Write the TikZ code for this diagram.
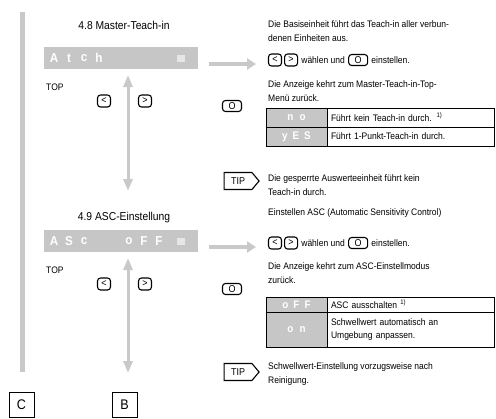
\documentclass[tikz,border=0pt]{standalone}
\usepackage{fontspec}
\setmainfont{Liberation Sans}[FakeStretch=0.9]
\usetikzlibrary{positioning,arrows.meta,shapes.symbols}
\definecolor{lcdgray}{HTML}{C6C6C6}
\definecolor{bargray}{HTML}{C9C9C9}
\definecolor{ledgray}{HTML}{E6E6E6}
\tikzset{
  body/.style    = {anchor=west, align=left, inner sep=0pt,
                    font=\fontsize{9.5}{14}\selectfont},
  head/.style    = {inner sep=0pt, font=\fontsize{11.5}{12}\selectfont},
  lcd/.style     = {fill=lcdgray, anchor=north west, minimum width=154bp,
                    minimum height=22bp, inner sep=0pt},
  lcdch/.style   = {text=white, inner sep=0pt, font=\bfseries\fontsize{13}{13}\selectfont},
  led/.style     = {fill=ledgray, minimum width=8bp, minimum height=7bp, inner sep=0pt},
  keybtn/.style  = {draw, line width=1.1bp, rounded corners=3bp, minimum width=13bp,
                    minimum height=12bp, inner sep=0pt, font=\fontsize{10}{10}\selectfont},
  okbtn/.style   = {keybtn, minimum width=19bp, minimum height=11bp},
  tipbox/.style  = {signal, signal to=east, signal pointer angle=100, draw, line width=1.1bp,
                    minimum width=35bp, minimum height=17bp, inner sep=1.5pt,
                    font=\fontsize{10}{10}\selectfont},
  lcdcell/.style = {draw, line width=0.8bp, fill=lcdgray, text=white, outer sep=0pt,
                    text width=53bp, align=center, inner sep=4bp,
                    font=\bfseries\fontsize{11}{12}\selectfont},
  txtcell/.style = {draw, line width=0.8bp, outer sep=0pt, text width=159bp,
                    align=left, inner sep=4bp, font=\fontsize{9.5}{13}\selectfont},
  grayarr/.style = {draw=bargray, line width=4bp, -{Triangle[length=9bp,width=11bp]}},
  vertarr/.style = {draw=bargray, line width=3bp,
                    {Triangle[length=12bp,width=9bp]}-{Triangle[length=12bp,width=9bp]}},
  letter/.style  = {draw, line width=0.8bp, minimum width=25bp, minimum height=25bp,
                    inner sep=0pt, font=\fontsize{14}{14}\selectfont},
}
\begin{document}
\begin{tikzpicture}[x=1bp,y=-1bp]
\useasboundingbox (0,0) rectangle (496,418);

% --- side bar
\fill[bargray] (20,12) rectangle (25,372);

% --- 4.8 master teach-in
\node[head] (h48) at (124,25) {4.8 Master-Teach-in};
\node[lcd] (atch) at (44,47) {};
\foreach \ch [count=\i from 0] in {A,t,c,h}
  \node[lcdch] at (54+15*\i,58) {\ch};
\node[led] (atchled) at (181,58) {};
\node[body] (top48) at (46,87) {TOP};
\node[keybtn] (lt48) at (104,101) {<};
\node[keybtn] (gt48) at (145,101) {>};
\coordinate (v48top) at (128,75);
\coordinate (v48bot) at (128,191);
\draw[vertarr] (v48top) -- (v48bot);
\node[okbtn] (ok48) at (232,106) {O};
\node[tipbox] (tip48) at (238,181) {TIP};

\node[body] (txt48) at (268,31) {Die Basiseinheit führt das Teach-in aller verbun-\\denen Einheiten aus.};
\node[keybtn] (klt48) at (275,60) {<};
\node[keybtn, right=2bp of klt48] (kgt48) {>};
\node[body, right=3bp of kgt48] (sel48) {wählen und};
\node[okbtn, right=3bp of sel48] (kok48) {O};
\node[body, right=3bp of kok48] (set48) {einstellen.};
\coordinate (a48from) at (209,64);
\coordinate (a48to) at (256,64);
\draw[grayarr] (a48from) -- (a48to);
\node[body] (ret48) at (268,91) {Die Anzeige kehrt zum Master-Teach-in-Top-\\Menü zurück.};

\node[lcdcell, minimum height=19bp, anchor=north west] (no) at (266,108) {n\hspace{6bp}o};
\node[txtcell, minimum height=19bp, right=0pt of no] (nodesc) {Führt kein Teach-in durch. \textsuperscript{1)}};
\node[lcdcell, minimum height=19bp, below=0pt of no] (yes) {y\hspace{5bp}E\hspace{5bp}S};
\node[txtcell, minimum height=19bp, right=0pt of yes] (yesdesc) {Führt 1-Punkt-Teach-in durch.};

\node[body] (tiptxt48) at (268,185) {Die gesperrte Auswerteeinheit führt kein\\Teach-in durch.};

% --- 4.9 ASC
\node[head] (h49) at (124,218) {4.9 ASC-Einstellung};
\node[lcd] (asc) at (44,230) {};
\foreach \ch [count=\i from 0] in {A,S,c,{},{},o,F,F}
  \node[lcdch] at (54+15*\i,241) {\ch};
\node[led] (ascled) at (181,241) {};
\node[body] (top49) at (46,270) {TOP};
\node[keybtn] (lt49) at (104,284) {<};
\node[keybtn] (gt49) at (145,284) {>};
\coordinate (v49top) at (128,258);
\coordinate (v49bot) at (128,373);
\draw[vertarr] (v49top) -- (v49bot);
\node[okbtn] (ok49) at (232,289) {O};
\node[tipbox] (tip49) at (238,372) {TIP};

\node[body] (txt49) at (268,213) {Einstellen ASC (Automatic Sensitivity Control)};
\node[keybtn] (klt49) at (275,243) {<};
\node[keybtn, right=2bp of klt49] (kgt49) {>};
\node[body, right=3bp of kgt49] (sel49) {wählen und};
\node[okbtn, right=3bp of sel49] (kok49) {O};
\node[body, right=3bp of kok49] (set49) {einstellen.};
\coordinate (a49from) at (209,247);
\coordinate (a49to) at (256,247);
\draw[grayarr] (a49from) -- (a49to);
\node[body] (ret49) at (268,273) {Die Anzeige kehrt zum ASC-Einstellmodus\\zurück.};

\node[lcdcell, minimum height=15bp, inner ysep=1bp, anchor=north west] (off) at (266,297) {o\hspace{5bp}F\hspace{5bp}F};
\node[txtcell, minimum height=15bp, inner ysep=1bp, right=0pt of off] (offdesc) {ASC ausschalten \textsuperscript{1)}};
\node[lcdcell, minimum height=35bp, below=0pt of off] (on) {o\hspace{6bp}n};
\node[txtcell, minimum height=35bp, right=0pt of on] (ondesc) {Schwellwert automatisch an\\Umgebung anpassen.};

\node[body] (tiptxt49) at (268,374) {Schwellwert-Einstellung vorzugsweise nach\\Reinigung.};

% --- letters
\node[letter] (lc) at (21.5,405) {C};
\node[letter] (lb) at (124.5,405) {B};
\end{tikzpicture}
\end{document}
